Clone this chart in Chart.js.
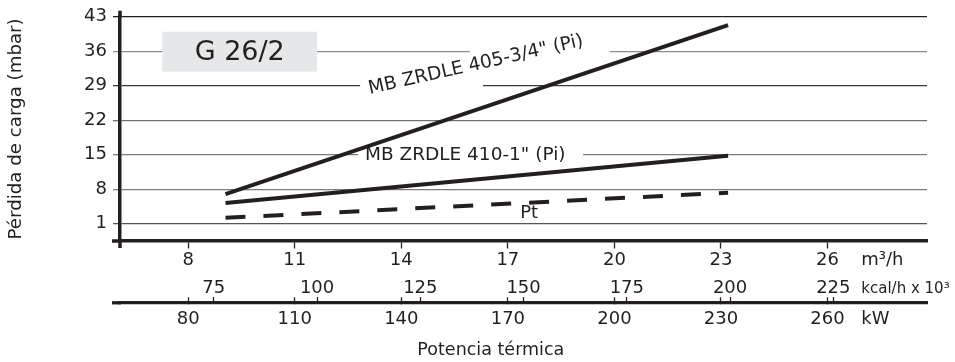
<!DOCTYPE html>
<html><head><meta charset="utf-8">
<script src="https://cdn.jsdelivr.net/npm/chart.js@4.4.1/dist/chart.umd.min.js"></script>
<style>html,body{margin:0;padding:0;background:#fff;}canvas{display:block;}</style>
</head><body>
<canvas id="c" width="955" height="362"></canvas>
<script>
// ---- data ----
const flowM3h  = [9.05, 23.2];
const zrdle405 = [7.0, 41.3];
const zrdle410 = [5.2, 14.8];
const ptLoss   = [2.2, 7.3];
const yTicks    = [1, 8, 15, 22, 29, 36, 43];
const m3hTicks  = [8, 11, 14, 17, 20, 23, 26];
const kcalTicks = [75, 100, 125, 150, 175, 200, 225];
const kwTicks   = [80, 110, 140, 170, 200, 230, 260];
const seriesLabels = ['MB ZRDLE 405-3/4" (Pi)', 'MB ZRDLE 410-1" (Pi)', 'Pt'];
const modelName = 'G 26/2';
const xTitle = 'Potencia térmica';
const yTitle = 'Pérdida de carga (mbar)';
const unitLabels = ['m³/h', 'kcal/h x 10³', 'kW'];

// ---- scale relations / style ----
const KCAL_PER_M3H = 8.6, KW_PER_M3H = 10;
const X_MIN = 6.08, X_MAX = 28.8;
const Y_MIN = -2.5, Y_MAX = 43;
const AXIS1_Y = -2.5;     // m3/h axis line (in y units)
const AXIS2_Y = -15.04;   // kcal / kW axis line (in y units)
const INK = '#231f20';
const FONT = "'DejaVu Sans', sans-serif";
const gridShade = {43:'#231f20', 36:'#8c8c8c', 29:'#3a3a3a', 22:'#707070', 15:'#7c7c7c', 8:'#7c7c7c', 1:'#555555'};

function fixedTicks(list){ return s => { s.ticks = list.map(v => ({value: v})); }; }

const annot = {
  id: 'annot',
  beforeDatasetsDraw(chart) {
    const {ctx, scales: {x, y}} = chart;
    ctx.save();
    // breaks in the grid lines behind the labels
    ctx.fillStyle = '#fff';
    [[36, 15.93, 19.87], [29, 12.84, 16.30], [15, 12.78, 19.12]].forEach(([v, a, b]) => {
      const py = y.getPixelForValue(v), pa = x.getPixelForValue(a), pb = x.getPixelForValue(b);
      ctx.fillRect(pa, py - 2.5, pb - pa, 5);
    });
    // model box
    const bx1 = x.getPixelForValue(7.27), bx2 = x.getPixelForValue(11.63);
    const by1 = y.getPixelForValue(39.97), by2 = y.getPixelForValue(31.88);
    ctx.fillStyle = '#e6e7e8';
    ctx.fillRect(bx1, by1, bx2 - bx1, by2 - by1);
    ctx.fillStyle = INK;
    ctx.font = "27px " + FONT;
    ctx.textAlign = 'center'; ctx.textBaseline = 'middle';
    ctx.fillText(modelName, (bx1 + bx2) / 2, (by1 + by2) / 2 + 1);
    ctx.restore();
  },
  afterDatasetsDraw(chart) {
    const {ctx, scales: {x, y}} = chart;
    ctx.save();
    ctx.fillStyle = INK;
    ctx.textAlign = 'center'; ctx.textBaseline = 'middle';
    ctx.font = "18.6px " + FONT;
    ctx.save();
    ctx.translate(x.getPixelForValue(16.1), y.getPixelForValue(33.2));
    ctx.rotate(-12.7 * Math.PI / 180);
    ctx.fillText(seriesLabels[0], 0, 0);
    ctx.restore();
    ctx.font = "18.5px " + FONT;
    ctx.fillText(seriesLabels[1], x.getPixelForValue(15.8), y.getPixelForValue(14.9));
    ctx.font = "18px " + FONT;
    ctx.fillText(seriesLabels[2], x.getPixelForValue(17.6), y.getPixelForValue(3.1));
    ctx.restore();
  },
  afterDraw(chart) {
    const {ctx, chartArea: ca, scales: {x, y}} = chart;
    ctx.save();
    ctx.strokeStyle = INK;
    ctx.lineWidth = 3.5;
    ctx.beginPath();
    ctx.moveTo(ca.left, ca.top - 6); ctx.lineTo(ca.left, ca.top + 1);
    ctx.moveTo(ca.left, ca.bottom - 1); ctx.lineTo(ca.left, ca.bottom + 7);
    const p1 = y.getPixelForValue(AXIS1_Y), p2 = y.getPixelForValue(AXIS2_Y);
    ctx.moveTo(ca.left - 8, p1); ctx.lineTo(ca.left + 1, p1);
    ctx.stroke();
    ctx.lineWidth = 3.3;
    ctx.beginPath();
    ctx.moveTo(ca.left - 8, p2); ctx.lineTo(ca.left + 1, p2);
    ctx.stroke();
    // unit labels and x title
    ctx.fillStyle = INK;
    ctx.textBaseline = 'middle';
    ctx.textAlign = 'left';
    const ux = x.getPixelForValue(26.95);
    ctx.font = "18px " + FONT;
    ctx.fillText(unitLabels[0], ux, 260);
    ctx.font = "15px " + FONT;
    ctx.fillText(unitLabels[1], ux, 289);
    ctx.font = "18px " + FONT;
    ctx.fillText(unitLabels[2], ux, 319.5);
    ctx.textAlign = 'center';
    ctx.font = "17.5px " + FONT;
    ctx.fillText(xTitle, x.getPixelForValue(16.52), 350);
    ctx.restore();
  }
};

const tickFont = {family: FONT, size: 18};

new Chart(document.getElementById('c'), {
  type: 'line',
  data: {
    datasets: [
      {label: seriesLabels[0], data: flowM3h.map((v, i) => ({x: v, y: zrdle405[i]})),
       borderColor: INK, borderWidth: 4, pointRadius: 0, borderCapStyle: 'butt', xAxisID: 'x', yAxisID: 'y'},
      {label: seriesLabels[1], data: flowM3h.map((v, i) => ({x: v, y: zrdle410[i]})),
       borderColor: INK, borderWidth: 4, pointRadius: 0, borderCapStyle: 'butt', xAxisID: 'x', yAxisID: 'y'},
      {label: seriesLabels[2], data: flowM3h.map((v, i) => ({x: v, y: ptLoss[i]})),
       borderColor: INK, borderWidth: 4, pointRadius: 0, borderCapStyle: 'butt', borderDash: [20, 18], xAxisID: 'x', yAxisID: 'y'}
    ]
  },
  options: {
    responsive: false, animation: false, events: [],
    layout: {padding: {left: 0, top: 16, right: 28, bottom: 121}},
    plugins: {legend: {display: false}, tooltip: {enabled: false}},
    scales: {
      x: {
        type: 'linear', axis: 'x', min: X_MIN, max: X_MAX, position: {y: AXIS1_Y},
        afterBuildTicks: fixedTicks(m3hTicks),
        grid: {drawOnChartArea: false, drawTicks: true, tickLength: 6, tickWidth: 1.3, tickColor: INK},
        border: {display: true, width: 3.5, color: INK},
        ticks: {autoSkip: false, maxRotation: 0, padding: 2.2, font: tickFont, color: INK}
      },
      kcal: {
        type: 'linear', axis: 'x', min: X_MIN * KCAL_PER_M3H, max: X_MAX * KCAL_PER_M3H, position: {y: AXIS2_Y},
        afterBuildTicks: fixedTicks(kcalTicks),
        grid: {drawOnChartArea: false, drawTicks: true, tickLength: -6, tickWidth: 1.3, tickColor: INK},
        border: {display: false},
        ticks: {autoSkip: false, maxRotation: 0, padding: -18.8, font: tickFont, color: INK}
      },
      kw: {
        type: 'linear', axis: 'x', min: X_MIN * KW_PER_M3H, max: X_MAX * KW_PER_M3H, position: {y: AXIS2_Y},
        afterBuildTicks: fixedTicks(kwTicks),
        grid: {drawOnChartArea: false, drawTicks: true, tickLength: -7, tickWidth: 1.3, tickColor: INK},
        border: {display: true, width: 3.3, color: INK},
        ticks: {autoSkip: false, maxRotation: 0, padding: 12.7, font: tickFont, color: INK}
      },
      y: {
        type: 'linear', position: 'left', min: Y_MIN, max: Y_MAX,
        afterBuildTicks: fixedTicks(yTicks),
        afterFit: s => { s.width = 120; },
        grid: {
          color: c => (c.tick && gridShade[c.tick.value]) || '#777',
          tickColor: c => (c.tick && gridShade[c.tick.value]) || '#777',
          lineWidth: 1.3, tickWidth: 1.3, tickLength: 7, drawTicks: true
        },
        border: {display: true, width: 3.5, color: INK},
        ticks: {padding: 6, font: tickFont, color: INK},
        title: {display: true, text: yTitle, color: INK, font: {family: FONT, size: 18.2}, padding: {top: 5, bottom: 0}}
      }
    }
  },
  plugins: [annot]
});
</script>
</body></html>
